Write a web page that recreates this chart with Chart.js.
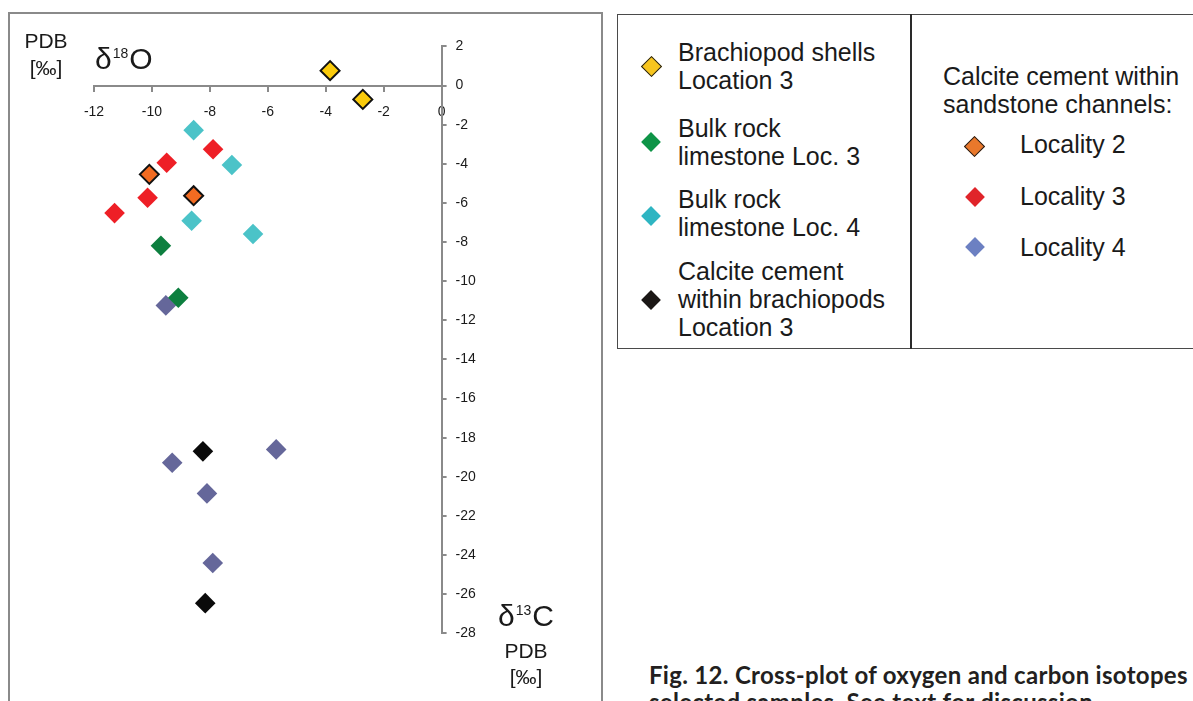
<!DOCTYPE html>
<html>
<head>
<meta charset="utf-8">
<script src="https://cdn.jsdelivr.net/npm/chart.js@4/dist/chart.umd.min.js"></script>
<style>
  html, body { margin: 0; padding: 0; background: #fff; }
  body { width: 1193px; height: 701px; position: relative; overflow: hidden;
         font-family: "Liberation Sans", Arial, sans-serif; color: #1a1a1a; }
  #frame { position: absolute; left: 8px; top: 12px; width: 595px; height: 760px;
           border: 2px solid #8a8a8a; box-sizing: border-box; }
  #plot { position: absolute; left: 0; top: 0; }
  .t { position: absolute; white-space: nowrap; }
  .axlab { font-size: 21px; line-height: 24px; text-align: center; }
  .delta { font-size: 30px; line-height: 34px; }
  .delta sup { font-size: 14px; vertical-align: 0; position: relative; top: -11px; margin: 0 1px; }
  #legend { position: absolute; left: 617px; top: 14px; width: 640px; height: 335px;
            border: 1.5px solid #4a4a4a; box-sizing: border-box; }
  #divider { position: absolute; left: 910px; top: 14px; width: 2px; height: 335px; background: #2a2a2a; }
  .lg { position: absolute; font-size: 25px; line-height: 28px; white-space: nowrap; color: #1a1a1a; }
  .dm { position: absolute; width: 14px; height: 14px; transform: rotate(45deg); box-sizing: border-box; }
  .dm.b { border: 1.6px solid #1a1a1a; width: 15px; height: 15px; }
  #caption { position: absolute; left: 649px; top: 661px; width: 760px;
             font-family: Lato, "Open Sans", sans-serif; font-weight: 700; font-size: 24px;
             letter-spacing: 0.3px; line-height: 27px; color: #231f20; white-space: nowrap; }
</style>
</head>
<body>
<div id="frame"></div>
<canvas id="plot" width="600" height="701"></canvas>

<!-- axis titles -->
<div class="t axlab" style="left:22px; top:29px; width:48px;">PDB</div>
<div class="t axlab" style="left:22px; top:56px; width:48px;">[‰]</div>
<div class="t delta" style="left:95px; top:42px;">δ<sup>18</sup>O</div>
<div class="t delta" style="left:498px; top:599px;">δ<sup>13</sup>C</div>
<div class="t axlab" style="left:502px; top:639px; width:48px;">PDB</div>
<div class="t axlab" style="left:502px; top:665px; width:48px;">[‰]</div>

<!-- legend -->
<div id="legend"></div>
<div id="divider"></div>

<div class="dm b" style="left:644px; top:59px; background:#F7C51E;"></div>
<div class="lg" style="left:678px; top:38px;">Brachiopod shells<br>Location 3</div>

<div class="dm" style="left:644px; top:135px; background:#0E9447;"></div>
<div class="lg" style="left:678px; top:114px;">Bulk rock<br>limestone Loc. 3</div>

<div class="dm" style="left:644px; top:209px; background:#2EB5C2;"></div>
<div class="lg" style="left:678px; top:185px;">Bulk rock<br>limestone Loc. 4</div>

<div class="dm" style="left:644px; top:293px; background:#1B1715;"></div>
<div class="lg" style="left:678px; top:257px;">Calcite cement<br>within brachiopods<br>Location 3</div>

<div class="lg" style="left:943px; top:62px;">Calcite cement within<br>sandstone channels:</div>

<div class="dm b" style="left:967px; top:139px; background:#E9782B;"></div>
<div class="lg" style="left:1020px; top:130px;">Locality 2</div>

<div class="dm" style="left:968px; top:190px; background:#E0242A;"></div>
<div class="lg" style="left:1020px; top:182px;">Locality 3</div>

<div class="dm" style="left:968px; top:240px; background:#6C80C2;"></div>
<div class="lg" style="left:1020px; top:233px;">Locality 4</div>

<div id="caption">Fig. 12. Cross-plot of oxygen and carbon isotopes of<br>selected samples. See text for discussion.</div>

<script>
// δ18O (x) and δ13C (y) pairs, PDB ‰
const brachiopodShellsLoc3 = [[-3.85, 0.76], [-2.72, -0.71]];
const bulkRockLoc3 = [[-9.69, -8.19], [-9.09, -10.85]];
const bulkRockLoc4 = [[-8.56, -2.28], [-7.24, -4.06], [-8.63, -6.91], [-6.51, -7.59]];
const cementInBrachiopodsLoc3 = [[-8.24, -18.70], [-8.16, -26.46]];
const channelCementLoc2 = [[-10.09, -4.54], [-8.56, -5.63]];
const channelCementLoc3 = [[-7.89, -3.26], [-9.49, -3.95], [-10.15, -5.74], [-11.29, -6.52]];
const channelCementLoc4 = [[-9.52, -11.24], [-9.30, -19.28], [-5.71, -18.60], [-8.10, -20.85], [-7.90, -24.41]];

// axis extents
const oxygenRange = [-12, 0];
const carbonRange = [-28, 2];
const tickStep = 2;

const toPoints = arr => arr.map(([x, y]) => ({ x, y }));

function series(label, pts, fill, outlined) {
  return {
    label,
    data: toPoints(pts),
    pointStyle: 'rectRot',
    pointRadius: outlined ? 9.5 : 10.3,
    pointHoverRadius: outlined ? 9.5 : 10.3,
    backgroundColor: fill,
    borderColor: outlined ? '#111111' : fill,
    borderWidth: outlined ? 2 : 0,
    showLine: false
  };
}

const tickFont = { family: "'Liberation Sans', Arial, sans-serif", size: 14 };
const axisGrey = '#8a8a8a';

new Chart(document.getElementById('plot'), {
  type: 'scatter',
  data: {
    datasets: [
      series('Brachiopod shells Location 3', brachiopodShellsLoc3, '#FACB0C', true),
      series('Bulk rock limestone Loc. 3', bulkRockLoc3, '#0D7F3F', false),
      series('Bulk rock limestone Loc. 4', bulkRockLoc4, '#4BC3C8', false),
      series('Calcite cement within brachiopods Location 3', cementInBrachiopodsLoc3, '#0A0A0A', false),
      series('Locality 2', channelCementLoc2, '#F26B21', true),
      series('Locality 3', channelCementLoc3, '#EE1F26', false),
      series('Locality 4', channelCementLoc4, '#65679A', false)
    ]
  },
  options: {
    responsive: false,
    animation: false,
    events: [],
    layout: { padding: { left: 94, top: 46.4, right: 108.4, bottom: 67.7 } },
    plugins: { legend: { display: false }, tooltip: { enabled: false } },
    scales: {
      x: {
        type: 'linear',
        min: oxygenRange[0], max: oxygenRange[1],
        position: { y: 0 },
        ticks: { stepSize: tickStep, autoSkip: false, maxRotation: 0, font: tickFont, color: '#1a1a1a', padding: 13 },
        grid: { drawOnChartArea: false, drawTicks: true, tickLength: 5, color: axisGrey, lineWidth: 2 },
        border: { display: true, color: axisGrey, width: 2 }
      },
      y: {
        type: 'linear',
        min: carbonRange[0], max: carbonRange[1],
        position: 'right',
        afterFit: s => { s.width = 50; },
        ticks: { stepSize: tickStep, autoSkip: false, font: tickFont, color: '#1a1a1a', padding: 9 },
        grid: { drawOnChartArea: false, drawTicks: true, tickLength: 5, color: axisGrey, lineWidth: 2 },
        border: { display: true, color: axisGrey, width: 2 }
      }
    }
  }
});
</script>
</body>
</html>
